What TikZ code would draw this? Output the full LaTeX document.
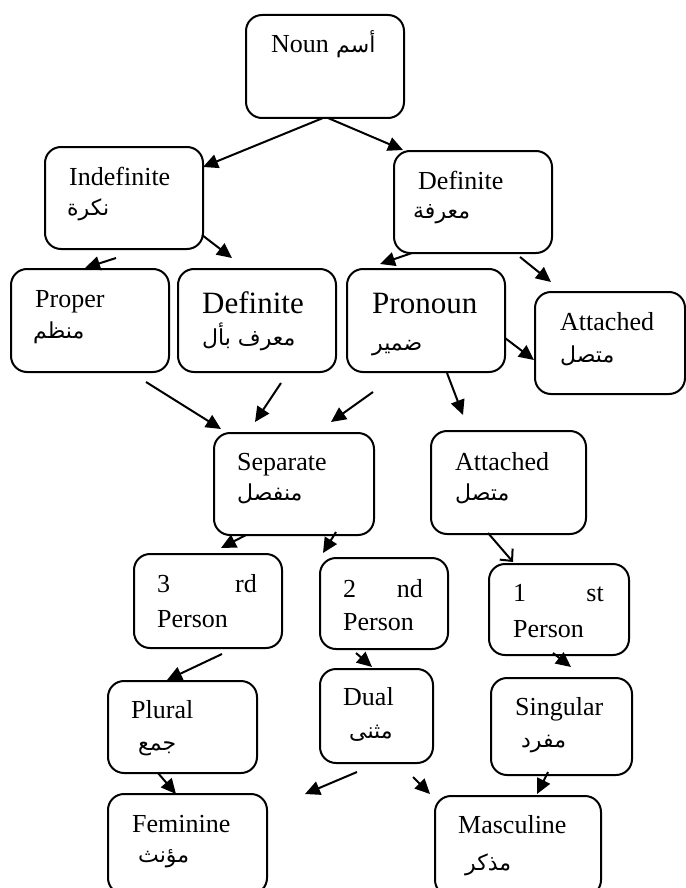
\documentclass[tikz,border=0pt]{standalone}
\usepackage{fontspec}
\setmainfont{Liberation Serif}
\newfontfamily\arabicfont[Script=Arabic]{DejaVu Sans}
\TeXXeTstate=1
\usetikzlibrary{arrows.meta}

\newcommand{\ar}[1]{\beginR #1\endR}

\begin{document}
\begin{tikzpicture}[x=1pt,y=-1pt,
  box/.style={draw, line width=2pt, rounded corners=16pt, inner sep=0pt,
    anchor=north west, rectangle},
  lbl/.style={anchor=base west, inner sep=0pt, font=\fontsize{26}{30}\selectfont},
  biglbl/.style={anchor=base west, inner sep=0pt, font=\fontsize{31}{36}\selectfont},
  lblR/.style={anchor=base east, inner sep=0pt, font=\fontsize{26}{30}\selectfont},
  arlbl/.style={anchor=base west, inner sep=0pt, font=\fontsize{22}{26}\arabicfont},
  arr/.style={line width=2pt, -{Triangle[length=15pt,width=14pt]}},
  openarr/.style={line width=2pt, -{Straight Barb[length=9pt,width=17pt,line width=2pt]}}]

\useasboundingbox (0,0) rectangle (685,888);

% ---------- boxes ----------
\node[box, minimum width=158pt, minimum height=103pt] (noun)   at (245,14)  {};
\node[box, minimum width=158pt, minimum height=102pt] (indef)  at (44,146)  {};
\node[box, minimum width=158pt, minimum height=102pt] (defR)   at (393,150) {};
\node[box, minimum width=158pt, minimum height=103pt] (proper) at (10,268)  {};
\node[box, minimum width=158pt, minimum height=103pt] (defM)   at (177,268) {};
\node[box, minimum width=158pt, minimum height=103pt] (pron)   at (346,268) {};
\node[box, minimum width=150pt, minimum height=102pt] (attR)   at (534,291) {};
\node[box, minimum width=160pt, minimum height=102pt] (sep)    at (213,432) {};
\node[box, minimum width=155pt, minimum height=103pt] (attM)   at (430,430) {};
\node[box, minimum width=148pt, minimum height=94pt]  (third)  at (133,553) {};
\node[box, minimum width=128pt, minimum height=91pt]  (second) at (319,557) {};
\node[box, minimum width=140pt, minimum height=91pt]  (first)  at (488,563) {};
\node[box, minimum width=149pt, minimum height=92pt]  (plural) at (107,680) {};
\node[box, minimum width=113pt, minimum height=94pt]  (dual)   at (319,668) {};
\node[box, minimum width=141pt, minimum height=97pt]  (sing)   at (490,677) {};
\node[box, minimum width=159pt, minimum height=100pt] (fem)    at (107,793) {};
\node[box, minimum width=166pt, minimum height=100pt] (masc)   at (434,795) {};

% ---------- texts ----------
\node[lbl]   (tNoun)  at (271,53)  {Noun};
\node[arlbl] (aNoun)  at (336,53)  {\ar{أسم}};

\node[lbl]   (tIndef) at (69,185)  {Indefinite};
\node[arlbl] (aIndef) at (67,215)  {\ar{نكرة}};

\node[lbl]   (tDefR)  at (418,189) {Definite};
\node[arlbl] (aDefR)  at (413,218) {\ar{معرفة}};

\node[lbl]   (tProp)  at (35,307)  {Proper};
\node[arlbl] (aProp)  at (33,338)  {\ar{منظم}};

\node[biglbl](tDefM)  at (202,313) {Definite};
\node[arlbl] (aDefM)  at (202,345) {\ar{معرف بأل}};

\node[biglbl](tPron)  at (372,313) {Pronoun};
\node[arlbl] (aPron)  at (372,350) {\ar{ضمير}};

\node[lbl]   (tAttR)  at (560,330) {Attached};
\node[arlbl] (aAttR)  at (560,362) {\ar{متصل}};

\node[lbl]   (tSep)   at (237,470) {Separate};
\node[arlbl] (aSep)   at (237,500) {\ar{منفصل}};

\node[lbl]   (tAttM)  at (455,470) {Attached};
\node[arlbl] (aAttM)  at (455,500) {\ar{متصل}};

\node[lbl]   (tThirdA) at (157,592) {3};
\node[lblR]  (tThirdB) at (257,592) {rd};
\node[lbl]   (tThirdC) at (157,627) {Person};

\node[lbl]   (tSecA)  at (343,597) {2};
\node[lblR]  (tSecB)  at (423,597) {nd};
\node[lbl]   (tSecC)  at (343,630) {Person};

\node[lbl]   (tFirA)  at (513,601) {1};
\node[lblR]  (tFirB)  at (604,601) {st};
\node[lbl]   (tFirC)  at (513,637) {Person};

\node[lbl]   (tPlur)  at (131,718) {Plural};
\node[arlbl] (aPlur)  at (138,750) {\ar{جمع}};

\node[lbl]   (tDual)  at (343,705) {Dual};
\node[arlbl] (aDual)  at (349,738) {\ar{مثنى}};

\node[lbl]   (tSing)  at (515,715) {Singular};
\node[arlbl] (aSing)  at (521,747) {\ar{مفرد}};

\node[lbl]   (tFem)   at (132,832) {Feminine};
\node[arlbl] (aFem)   at (138,862) {\ar{مؤنث}};

\node[lbl]   (tMasc)  at (458,833) {Masculine};
\node[arlbl] (aMasc)  at (465,870) {\ar{مذكر}};

% ---------- arrow end points ----------
\coordinate (n1)  at (323,118);   \coordinate (n1e)  at (203,167);
\coordinate (n2)  at (328,118);   \coordinate (n2e)  at (403,150);
\coordinate (i1)  at (202,235);   \coordinate (i1e)  at (232,258);
\coordinate (i2)  at (116,258);   \coordinate (i2e)  at (85,268);
\coordinate (d1)  at (412,253);   \coordinate (d1e)  at (380,264);
\coordinate (d2)  at (520,257);   \coordinate (d2e)  at (551,282);
\coordinate (p1)  at (505,338);   \coordinate (p1e)  at (534,360);
\coordinate (p2)  at (447,373);   \coordinate (p2e)  at (463,415);
\coordinate (r1)  at (146,382);   \coordinate (r1e)  at (221,429);
\coordinate (m1)  at (281,383);   \coordinate (m1e)  at (255,422);
\coordinate (p3)  at (373,392);   \coordinate (p3e)  at (331,422);
\coordinate (s1)  at (246,535);   \coordinate (s1e)  at (221,548);
\coordinate (s2)  at (336,532);   \coordinate (s2e)  at (323,553);
\coordinate (a1)  at (488,533);   \coordinate (a1e)  at (513,562);
\coordinate (t1)  at (222,654);   \coordinate (t1e)  at (167,680);
\coordinate (c1)  at (356,653);   \coordinate (c1e)  at (372,667);
\coordinate (f1)  at (553,653);   \coordinate (f1e)  at (571,667);
\coordinate (l1)  at (158,773);   \coordinate (l1e)  at (176,794);
\coordinate (u1)  at (357,772);   \coordinate (u1e)  at (305,794);
\coordinate (u2)  at (413,777);   \coordinate (u2e)  at (430,794);
\coordinate (g1)  at (548,772);   \coordinate (g1e)  at (537,794);

% ---------- connectors ----------
\draw[arr] (n1) -- (n1e);
\draw[arr] (n2) -- (n2e);
\draw[arr] (i1) -- (i1e);
\draw[arr] (i2) -- (i2e);
\draw[arr] (d1) -- (d1e);
\draw[arr] (d2) -- (d2e);
\draw[arr] (p1) -- (p1e);
\draw[arr] (p2) -- (p2e);
\draw[arr] (r1) -- (r1e);
\draw[arr] (m1) -- (m1e);
\draw[arr] (p3) -- (p3e);
\draw[arr] (s1) -- (s1e);
\draw[arr] (s2) -- (s2e);
\draw[openarr] (a1) -- (a1e);
\draw[arr] (t1) -- (t1e);
\draw[arr] (c1) -- (c1e);
\draw[arr] (f1) -- (f1e);
\draw[arr] (l1) -- (l1e);
\draw[arr] (u1) -- (u1e);
\draw[arr] (u2) -- (u2e);
\draw[arr] (g1) -- (g1e);

\end{tikzpicture}
\end{document}
